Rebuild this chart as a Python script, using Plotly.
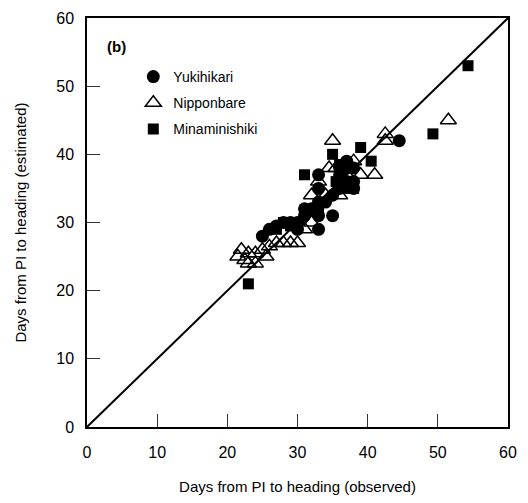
import plotly.graph_objects as go

# Observed vs estimated days from panicle initiation (PI) to heading
yuki_obs = [25, 26, 27, 28, 29, 30, 30, 31, 31, 32, 33, 33, 33, 33, 33, 34, 35, 35, 36, 36, 36, 37, 37, 37, 38, 38, 38, 44.5]
yuki_est = [28, 29, 29.5, 30, 30, 29, 30, 31, 32, 32, 29, 31, 33, 35, 37, 33, 31, 34, 35, 37, 38, 36, 38, 39, 35, 36, 38, 42]

nippon_obs = [21.5, 22, 22.5, 23, 23, 24, 24, 25, 25.5, 26, 27, 28, 29, 30, 31, 32, 32, 33, 34, 34.5, 35, 35.5, 36, 37, 38, 39, 41, 42.5, 42.5, 51.5]
nippon_est = [25, 26, 24.5, 24, 25.5, 25.5, 24, 26, 25, 26.5, 27, 27, 27, 27, 29, 30, 34, 36, 34, 38, 42, 38, 34, 37, 39, 37, 37, 43, 42, 45]

minami_obs = [23, 27, 28, 29, 29, 30, 31, 33, 35, 35.5, 36, 37, 38, 39, 40.5, 49.3, 54.3]
minami_est = [21, 29, 30, 29.5, 30, 30, 37, 32, 40, 36, 38.5, 35, 35, 41, 39, 43, 53]

line_ends = [0, 60]
ticks = [0, 10, 20, 30, 40, 50, 60]

font_family = "Liberation Sans, Arial, sans-serif"

fig = go.Figure()

# 1:1 line
fig.add_trace(go.Scatter(x=line_ends, y=line_ends, mode="lines",
                         line=dict(color="black", width=2), showlegend=False,
                         hoverinfo="skip"))

fig.add_trace(go.Scatter(x=yuki_obs, y=yuki_est, mode="markers", name="Yukihikari",
                         legendgroup="a",
                         marker=dict(symbol="circle", size=13, color="black")))
fig.add_trace(go.Scatter(x=nippon_obs, y=nippon_est, mode="markers", name="Nipponbare",
                         legendgroup="b",
                         marker=dict(symbol="triangle-up-open", size=14, color="black",
                                     line=dict(width=1.5, color="black"))))
fig.add_trace(go.Scatter(x=minami_obs, y=minami_est, mode="markers", name="Minaminishiki",
                         legendgroup="c",
                         marker=dict(symbol="square", size=11, color="black")))

axis_common = dict(
    range=[0, 60], tickvals=ticks, ticks="inside", ticklen=13, tickwidth=1.2,
    tickcolor="#333", showline=True, linecolor="black", linewidth=1.5, mirror=True,
    showgrid=False, zeroline=False,
    tickfont=dict(family=font_family, size=16, color="black"),
)

fig.update_xaxes(**axis_common, ticklabelstandoff=10,
                 title=dict(text="Days from PI to heading (observed)",
                            font=dict(family=font_family, size=15, color="black"),
                            standoff=22))
fig.update_yaxes(**axis_common, ticklabelstandoff=8,
                 title=dict(text="Days from PI to heading (estimated)",
                            font=dict(family=font_family, size=15, color="black"),
                            standoff=26))

fig.add_annotation(x=0.042, y=0.93, xref="paper", yref="paper", text="<b>(b)</b>",
                   showarrow=False, xanchor="left", yanchor="middle",
                   font=dict(family=font_family, size=15, color="black"))

fig.update_layout(
    width=528, height=503,
    margin=dict(l=87, r=20, t=10, b=75),
    paper_bgcolor="white", plot_bgcolor="white",
    legend=dict(x=0.11, y=0.895, xanchor="left", yanchor="top",
                bgcolor="rgba(0,0,0,0)", tracegroupgap=5,
                font=dict(family=font_family, size=14, color="black")),
)

fig.write_html("out.html")
